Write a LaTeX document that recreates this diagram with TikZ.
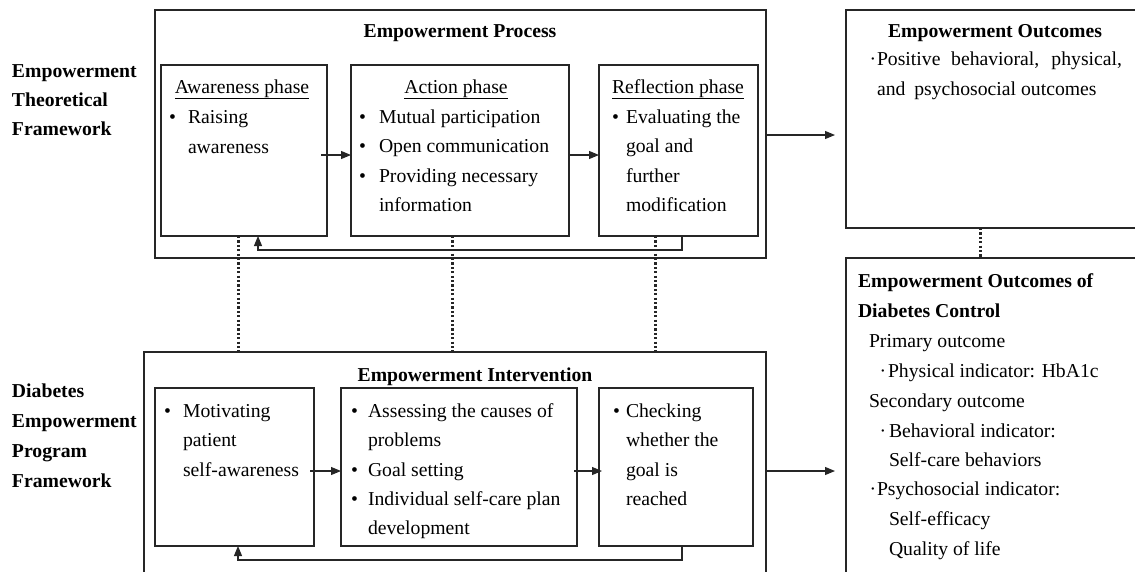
\documentclass[tikz,border=0pt]{standalone}
\usepackage{fontspec}
\setmainfont{Liberation Serif}
\usetikzlibrary{arrows.meta,calc}
\begin{document}
\begin{tikzpicture}[x=1pt,y=-1pt,
  box/.style={draw=black!85, line width=1.1pt, inner sep=0pt, outer sep=0pt, anchor=north west},
  txt/.style={inner sep=0pt, outer sep=0pt, anchor=base west, font=\fontsize{19.7}{24}\selectfont},
  btxt/.style={txt, font=\fontsize{19.7}{24}\selectfont\bfseries},
  ttl/.style={txt, anchor=base, font=\fontsize{19.7}{24}\selectfont\bfseries},
  ctr/.style={txt, anchor=base},
  arr/.style={draw=black!85, line width=1.1pt, -{Triangle[length=10pt,width=8pt]}},
  dots/.style={draw=black!85, line width=3pt, dash pattern=on 2.2pt off 2.2pt},
  link/.style={draw=black!85, line width=1.1pt}]
\path[use as bounding box, clip] (0,0) rectangle (1135,571);

% ---------- boxes ----------
\node[box, minimum width=611pt, minimum height=248pt] (P) at (155,10) {};
\node[box, minimum width=166pt, minimum height=171pt] (aw) at (161,65) {};
\node[box, minimum width=218pt, minimum height=171pt] (ac) at (351,65) {};
\node[box, minimum width=159pt, minimum height=171pt] (rf) at (599,65) {};
\node[box, minimum width=300pt, minimum height=218pt] (EO) at (846,10) {};
\node[box, minimum width=300pt, minimum height=340pt] (EOD) at (846,258) {};
\node[box, minimum width=622pt, minimum height=240pt] (I) at (144,352) {};
\node[box, minimum width=159pt, minimum height=158pt] (mo) at (155,388) {};
\node[box, minimum width=236pt, minimum height=158pt] (as) at (341,388) {};
\node[box, minimum width=154pt, minimum height=158pt] (ch) at (599,388) {};

% ---------- helper rows ----------
\coordinate (hA) at (0,155);
\coordinate (hB) at (0,135);
\coordinate (hC) at (0,471);
\coordinate (d1) at ($(aw.south)+(-6,0)$);
\coordinate (d2) at ($(ac.south)+(-8,0)$);
\coordinate (d3) at ($(rf.south)+(-23.5,0)$);
\coordinate (d4) at ($(EO.south)+(-16,0)$);

% ---------- connectors ----------
\draw[arr] ($(aw.east |- hA)+(-6,0)$) -- (ac.west |- hA);
\draw[arr] (ac.east |- hA) -- (rf.west |- hA);
\draw[arr] ($(rf.south)+(3.5,0)$) -- ++(0,14) -| ($(aw.south)+(14,0)$);
\draw[arr] (P.east |- hB) -- ($(EO.west |- hB)+(-11,0)$);

\draw[arr] ($(mo.east |- hC)+(-4,0)$) -- (as.west |- hC);
\draw[arr] ($(as.east |- hC)+(-3,0)$) -- ($(ch.west |- hC)+(3,0)$);
\draw[arr] ($(ch.south)+(6,0)$) -- ++(0,14) -| ($(mo.south)+(3.5,0)$);
\draw[arr] (I.east |- hC) -- ($(EOD.west |- hC)+(-11,0)$);

\draw[dots] (d1) -- (d1 |- I.north);
\draw[dots] (d2) -- (d2 |- I.north);
\draw[dots] (d3) -- (d3 |- I.north);
\draw[dots] (d4) -- (d4 |- EOD.north);

% ---------- left labels ----------
\node[btxt] (L1) at (12,77) {Empowerment};
\node[btxt] (L2) at (12,106) {Theoretical};
\node[btxt] (L3) at (12,135) {Framework};
\node[btxt] (L4) at (12,397) {Diabetes};
\node[btxt] (L5) at (12,427) {Empowerment};
\node[btxt] (L6) at (12,457) {Program};
\node[btxt] (L7) at (12,487) {Framework};

% ---------- Empowerment Process ----------
\node[ttl] (tP) at (460,37) {Empowerment Process};
\node[ctr] (hAw) at (242,93) {\underline{Awareness phase}};
\node[txt] (bA1) at (169,123) {•};
\node[txt] (tA1) at (188,123) {Raising};
\node[txt] (tA2) at (188,153) {awareness};

\node[ctr] (hAc) at (456,93) {\underline{Action phase}};
\node[txt] (bC1) at (359,123) {•};
\node[txt] (bC2) at (359,152.5) {•};
\node[txt] (bC3) at (359,182) {•};
\node[txt] (tC1) at (379,123) {Mutual participation};
\node[txt] (tC2) at (379,152.5) {Open communication};
\node[txt] (tC3) at (379,182) {Providing necessary};
\node[txt] (tC4) at (379,211.5) {information};

\node[ctr] (hRf) at (678,93) {\underline{Reflection phase}};
\node[txt] (bR1) at (612,123) {•};
\node[txt] (tR1) at (626,123) {Evaluating the};
\node[txt] (tR2) at (626,152.5) {goal and};
\node[txt] (tR3) at (626,182) {further};
\node[txt] (tR4) at (626,211.5) {modification};

% ---------- Empowerment Outcomes ----------
\node[ttl] (tEO) at (995,37) {Empowerment Outcomes};
\node[txt] (dO1) at (869.5,65) {·};
\node[txt] (tO1) at (877,65) {\makebox[245pt][s]{Positive behavioral, physical,}};
\node[txt] (tO2) at (877,95) {and\hspace{4pt} psychosocial outcomes};

% ---------- Empowerment Intervention ----------
\node[ttl] (tI) at (475,381) {Empowerment Intervention};
\node[txt] (bM1) at (164,417) {•};
\node[txt] (tM1) at (183,417) {Motivating};
\node[txt] (tM2) at (183,446.5) {patient};
\node[txt] (tM3) at (183,476) {self-awareness};

\node[txt] (bS1) at (351,417) {•};
\node[txt] (bS2) at (351,476) {•};
\node[txt] (bS3) at (351,505) {•};
\node[txt] (tS1) at (368,417) {Assessing the causes of};
\node[txt] (tS2) at (368,446.5) {problems};
\node[txt] (tS3) at (368,476) {Goal setting};
\node[txt] (tS4) at (368,505) {Individual self-care plan};
\node[txt] (tS5) at (368,534.5) {development};

\node[txt] (bK1) at (613,417) {•};
\node[txt] (tK1) at (626,417) {Checking};
\node[txt] (tK2) at (626,446.5) {whether the};
\node[txt] (tK3) at (626,476) {goal is};
\node[txt] (tK4) at (626,505) {reached};

% ---------- Outcomes of Diabetes Control ----------
\node[btxt] (tD1) at (858,287) {Empowerment Outcomes of};
\node[btxt] (tD2) at (858,317) {Diabetes Control};
\node[txt] (tD3) at (869,347) {Primary outcome};
\node[txt] (dD4) at (879.5,377) {·};
\node[txt] (tD4) at (888,377) {Physical indicator: HbA1c};
\node[txt] (tD5) at (869,407) {Secondary outcome};
\node[txt] (dD6) at (879.5,437) {·};
\node[txt] (tD6) at (889,437) {Behavioral indicator:};
\node[txt] (tD7) at (889,466) {Self-care behaviors};
\node[txt] (dD8) at (869.5,495) {·};
\node[txt] (tD8) at (877,495) {Psychosocial indicator:};
\node[txt] (tD9) at (889,525) {Self-efficacy};
\node[txt] (tD10) at (889,555) {Quality of life};
\end{tikzpicture}
\end{document}
